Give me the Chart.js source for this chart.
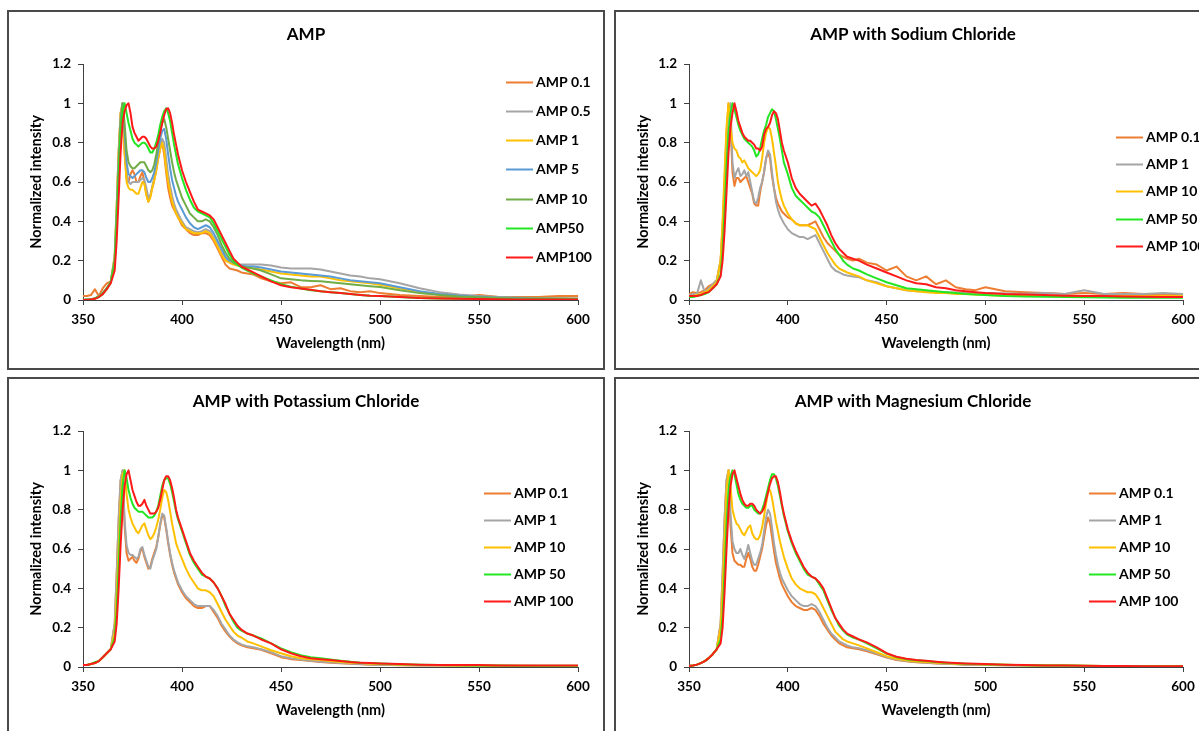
<!DOCTYPE html>
<html><head><meta charset="utf-8">
<script src="https://cdn.jsdelivr.net/npm/chart.js@4/dist/chart.umd.min.js"></script>
<style>
html,body{margin:0;padding:0;background:#fff;width:1199px;height:731px;overflow:hidden;}
.panel{position:absolute;border:2px solid #4a4a4a;box-sizing:border-box;width:598px;height:360px;background:#fff}
.panel canvas{position:absolute;left:0;top:0}
</style></head><body>
<div class="panel" style="left:7px;top:10px"><canvas id="c1" width="594" height="356"></canvas></div>
<div class="panel" style="left:614px;top:10px"><canvas id="c2" width="594" height="356"></canvas></div>
<div class="panel" style="left:7px;top:377px"><canvas id="c3" width="594" height="356"></canvas></div>
<div class="panel" style="left:614px;top:377px"><canvas id="c4" width="594" height="356"></canvas></div>
<script>
// ---------- data ----------
const WL = [350,352,354,356,358,360,362,364,
 366,367,368,369,370,371,372,373,374,375,376,377,378,379,380,381,382,383,384,385,386,387,388,389,390,391,392,393,394,395,396,397,398,
 400,402,404,406,408,410,412,414,416,418,420,422,424,426,428,430,
 433,436,
 440,445,450,455,460,465,470,475,480,485,490,495,500,
 510,520,530,540,550,560,570,580,590,600];

const TITLES = ['AMP','AMP with Sodium Chloride','AMP with Potassium Chloride','AMP with Magnesium Chloride'];
const LABELS_P1 = ['AMP 0.1','AMP 0.5','AMP 1','AMP 5','AMP 10','AMP50','AMP100'];
const LABELS_P234 = ['AMP 0.1','AMP 1','AMP 10','AMP 50','AMP 100'];
const X_TICKS = [350,400,450,500,550,600];
const Y_TICKS = [0,0.2,0.4,0.6,0.8,1,1.2];

// Panel 1: AMP
const P1_01 = [0.02,0.02,0.025,0.055,0.02,0.06,0.085,0.095,
 0.22,0.47,0.75,0.95,1.0,0.75,0.62,0.6,0.64,0.66,0.64,0.6,0.6,0.63,0.65,0.6,0.54,0.5,0.53,0.57,0.61,0.66,0.72,0.77,0.8,0.74,0.65,0.57,0.52,0.48,0.46,0.44,0.42,
 0.38,0.36,0.34,0.33,0.33,0.34,0.34,0.33,0.3,0.26,0.22,0.18,0.16,0.155,0.15,0.14,
 0.135,0.13,
 0.11,0.095,0.085,0.09,0.065,0.065,0.075,0.055,0.06,0.045,0.04,0.045,0.035,
 0.025,0.02,0.015,0.015,0.025,0.015,0.015,0.015,0.02,0.02];
const P1_05 = [0,0.002,0.004,0.008,0.018,0.035,0.06,0.09,
 0.22,0.47,0.75,0.95,1.0,0.78,0.65,0.6,0.59,0.6,0.6,0.6,0.6,0.61,0.62,0.61,0.57,0.52,0.53,0.58,0.62,0.67,0.73,0.79,0.82,0.8,0.72,0.64,0.58,0.53,0.49,0.46,0.44,
 0.4,0.37,0.36,0.35,0.345,0.35,0.36,0.35,0.32,0.28,0.24,0.21,0.19,0.185,0.18,0.18,
 0.18,0.18,
 0.18,0.175,0.165,0.16,0.16,0.16,0.155,0.145,0.135,0.125,0.12,0.11,0.105,
 0.085,0.06,0.04,0.028,0.02,0.015,0.012,0.01,0.008,0.007];
const P1_1 = [0,0.002,0.004,0.008,0.018,0.035,0.06,0.09,
 0.22,0.47,0.75,0.95,1.0,0.75,0.6,0.57,0.56,0.56,0.55,0.54,0.54,0.57,0.6,0.59,0.53,0.5,0.52,0.57,0.61,0.66,0.72,0.77,0.8,0.76,0.67,0.6,0.55,0.5,0.47,0.44,0.42,
 0.39,0.36,0.35,0.34,0.34,0.34,0.35,0.34,0.31,0.27,0.23,0.2,0.19,0.18,0.175,0.17,
 0.165,0.16,
 0.155,0.145,0.135,0.13,0.125,0.12,0.12,0.11,0.1,0.095,0.09,0.085,0.078,
 0.06,0.04,0.028,0.02,0.015,0.012,0.01,0.008,0.007,0.006];
const P1_5 = [0,0.002,0.004,0.008,0.018,0.035,0.06,0.09,
 0.2,0.43,0.7,0.92,1.0,0.85,0.7,0.64,0.63,0.62,0.63,0.64,0.65,0.66,0.66,0.65,0.62,0.6,0.6,0.62,0.65,0.7,0.76,0.82,0.86,0.87,0.82,0.74,0.67,0.61,0.57,0.53,0.5,
 0.46,0.42,0.39,0.37,0.36,0.37,0.38,0.37,0.34,0.3,0.26,0.22,0.2,0.19,0.18,0.175,
 0.17,0.17,
 0.165,0.155,0.145,0.14,0.135,0.13,0.125,0.12,0.11,0.1,0.095,0.09,0.085,
 0.065,0.045,0.03,0.022,0.017,0.013,0.01,0.008,0.007,0.006];
const P1_10 = [0,0.002,0.004,0.008,0.018,0.035,0.06,0.09,
 0.2,0.42,0.68,0.9,1.0,0.9,0.76,0.7,0.68,0.67,0.67,0.68,0.69,0.7,0.7,0.7,0.68,0.66,0.65,0.66,0.69,0.74,0.8,0.86,0.9,0.92,0.88,0.82,0.76,0.7,0.65,0.61,0.58,
 0.52,0.48,0.44,0.42,0.4,0.4,0.41,0.4,0.37,0.33,0.28,0.24,0.21,0.19,0.18,0.17,
 0.165,0.16,
 0.15,0.13,0.11,0.105,0.1,0.097,0.095,0.09,0.085,0.08,0.075,0.07,0.066,
 0.05,0.035,0.025,0.018,0.014,0.01,0.008,0.007,0.006,0.005];
const P1_50 = [0,0,0.003,0.007,0.015,0.03,0.055,0.09,
 0.18,0.38,0.62,0.85,0.96,1.0,0.95,0.9,0.86,0.82,0.8,0.79,0.78,0.79,0.8,0.8,0.79,0.77,0.75,0.75,0.77,0.8,0.84,0.89,0.93,0.96,0.975,0.95,0.91,0.85,0.79,0.74,0.69,
 0.62,0.56,0.51,0.47,0.45,0.44,0.43,0.42,0.39,0.35,0.31,0.27,0.23,0.2,0.18,0.165,
 0.15,0.135,
 0.12,0.1,0.08,0.068,0.058,0.05,0.045,0.04,0.035,0.03,0.026,0.022,0.02,
 0.015,0.01,0.008,0.006,0.005,0.004,0.003,0.003,0.002,0.002];
const P1_100 = [0,0,0.003,0.006,0.015,0.03,0.055,0.085,
 0.15,0.3,0.52,0.75,0.9,0.96,0.99,1.0,0.95,0.88,0.85,0.83,0.81,0.82,0.83,0.83,0.82,0.8,0.78,0.77,0.77,0.78,0.81,0.85,0.9,0.94,0.97,0.975,0.95,0.9,0.84,0.79,0.74,
 0.66,0.6,0.55,0.5,0.46,0.45,0.44,0.43,0.41,0.37,0.33,0.29,0.25,0.21,0.19,0.17,
 0.155,0.14,
 0.12,0.095,0.075,0.065,0.058,0.052,0.045,0.04,0.035,0.03,0.026,0.022,0.02,
 0.015,0.01,0.008,0.006,0.005,0.004,0.003,0.003,0.002,0.002];

// Panel 2: with sodium chloride
const P2_01 = [0.03,0.04,0.035,0.04,0.05,0.07,0.08,0.1,
 0.2,0.38,0.6,0.85,1.0,0.9,0.65,0.58,0.62,0.62,0.6,0.61,0.62,0.63,0.6,0.57,0.54,0.49,0.48,0.48,0.55,0.6,0.65,0.72,0.75,0.72,0.63,0.57,0.52,0.49,0.47,0.45,0.44,
 0.42,0.41,0.39,0.38,0.38,0.38,0.39,0.4,0.36,0.32,0.29,0.27,0.25,0.23,0.22,0.21,
 0.2,0.21,
 0.19,0.18,0.15,0.17,0.12,0.1,0.12,0.08,0.1,0.065,0.055,0.05,0.065,
 0.045,0.04,0.035,0.03,0.035,0.03,0.035,0.03,0.03,0.03];
const P2_1 = [0.025,0.03,0.03,0.1,0.04,0.06,0.08,0.1,
 0.2,0.35,0.55,0.8,0.95,1.0,0.7,0.62,0.65,0.67,0.63,0.64,0.66,0.63,0.65,0.6,0.55,0.5,0.49,0.52,0.57,0.6,0.65,0.72,0.76,0.74,0.65,0.57,0.5,0.46,0.43,0.41,0.39,
 0.36,0.34,0.33,0.32,0.32,0.31,0.32,0.33,0.29,0.25,0.21,0.17,0.15,0.14,0.13,0.125,
 0.12,0.115,
 0.1,0.09,0.07,0.06,0.05,0.045,0.045,0.04,0.04,0.038,0.035,0.035,0.035,
 0.033,0.032,0.035,0.03,0.05,0.03,0.03,0.03,0.035,0.03];
const P2_10 = [0.02,0.02,0.025,0.03,0.04,0.05,0.07,0.09,
 0.2,0.4,0.65,0.88,1.0,0.88,0.8,0.77,0.76,0.73,0.72,0.7,0.71,0.69,0.67,0.66,0.65,0.64,0.63,0.64,0.66,0.72,0.8,0.85,0.88,0.87,0.82,0.75,0.68,0.6,0.55,0.51,0.48,
 0.44,0.41,0.39,0.38,0.38,0.38,0.37,0.36,0.32,0.28,0.24,0.21,0.18,0.16,0.15,0.14,
 0.13,0.12,
 0.1,0.085,0.07,0.06,0.05,0.045,0.04,0.035,0.035,0.03,0.03,0.028,0.025,
 0.022,0.02,0.02,0.02,0.02,0.02,0.02,0.02,0.02,0.02];
const P2_50 = [0.015,0.015,0.02,0.025,0.03,0.04,0.06,0.08,
 0.13,0.25,0.45,0.68,0.85,0.95,1.0,0.97,0.93,0.89,0.86,0.84,0.82,0.81,0.8,0.79,0.78,0.76,0.73,0.74,0.77,0.82,0.86,0.89,0.93,0.95,0.97,0.96,0.92,0.87,0.82,0.76,0.7,
 0.64,0.57,0.53,0.51,0.49,0.47,0.45,0.44,0.42,0.38,0.34,0.3,0.26,0.23,0.2,0.18,
 0.16,0.15,
 0.13,0.11,0.09,0.075,0.06,0.055,0.05,0.045,0.04,0.035,0.03,0.028,0.025,
 0.02,0.018,0.016,0.015,0.014,0.013,0.012,0.012,0.012,0.012];
const P2_100 = [0.02,0.02,0.02,0.025,0.035,0.04,0.06,0.08,
 0.12,0.2,0.35,0.55,0.75,0.88,0.95,1.0,0.96,0.91,0.88,0.85,0.83,0.82,0.81,0.81,0.8,0.79,0.77,0.77,0.76,0.78,0.84,0.87,0.88,0.9,0.94,0.96,0.95,0.92,0.86,0.8,0.76,
 0.7,0.62,0.57,0.54,0.52,0.5,0.48,0.49,0.46,0.42,0.38,0.33,0.29,0.26,0.24,0.22,
 0.21,0.2,
 0.18,0.16,0.14,0.12,0.1,0.085,0.08,0.065,0.06,0.05,0.045,0.04,0.035,
 0.03,0.028,0.025,0.022,0.02,0.02,0.018,0.016,0.015,0.015];

// Panel 3: with potassium chloride
const P3_01 = [0.01,0.01,0.015,0.02,0.03,0.05,0.07,0.09,
 0.22,0.47,0.75,0.95,1.0,0.72,0.58,0.54,0.55,0.56,0.54,0.53,0.55,0.59,0.6,0.56,0.53,0.5,0.51,0.55,0.58,0.61,0.66,0.72,0.77,0.76,0.7,0.63,0.57,0.52,0.48,0.45,0.42,
 0.38,0.35,0.33,0.31,0.3,0.3,0.31,0.31,0.28,0.25,0.21,0.18,0.155,0.135,0.12,0.11,
 0.1,0.095,
 0.088,0.07,0.05,0.04,0.035,0.03,0.026,0.022,0.019,0.016,0.014,0.012,0.011,
 0.009,0.008,0.007,0.006,0.006,0.005,0.005,0.005,0.005,0.005];
const P3_1 = [0.01,0.01,0.015,0.02,0.03,0.05,0.07,0.09,
 0.22,0.47,0.75,0.95,1.0,0.75,0.62,0.58,0.57,0.57,0.56,0.55,0.56,0.6,0.61,0.57,0.54,0.51,0.5,0.54,0.57,0.6,0.66,0.73,0.78,0.77,0.71,0.64,0.58,0.53,0.49,0.46,0.43,
 0.39,0.36,0.34,0.32,0.31,0.31,0.31,0.31,0.29,0.26,0.22,0.19,0.16,0.14,0.125,0.115,
 0.105,0.1,
 0.09,0.075,0.055,0.045,0.038,0.032,0.027,0.024,0.02,0.018,0.015,0.013,0.012,
 0.01,0.009,0.008,0.007,0.006,0.006,0.005,0.005,0.005,0.005];
const P3_10 = [0.01,0.01,0.015,0.02,0.03,0.05,0.07,0.09,
 0.18,0.36,0.6,0.85,0.98,1.0,0.88,0.8,0.76,0.73,0.71,0.69,0.68,0.7,0.72,0.73,0.7,0.67,0.65,0.66,0.68,0.71,0.75,0.8,0.86,0.9,0.89,0.85,0.79,0.73,0.68,0.63,0.6,
 0.55,0.5,0.46,0.43,0.4,0.39,0.39,0.38,0.36,0.32,0.28,0.24,0.21,0.18,0.16,0.15,
 0.13,0.12,
 0.105,0.085,0.07,0.055,0.045,0.04,0.035,0.03,0.025,0.022,0.02,0.017,0.015,
 0.012,0.01,0.009,0.008,0.007,0.006,0.006,0.005,0.005,0.005];
const P3_50 = [0.01,0.01,0.015,0.025,0.03,0.05,0.07,0.09,
 0.15,0.28,0.5,0.75,0.92,1.0,0.96,0.9,0.86,0.83,0.81,0.8,0.79,0.79,0.79,0.78,0.77,0.76,0.76,0.76,0.77,0.79,0.82,0.87,0.92,0.95,0.96,0.96,0.93,0.89,0.84,0.79,0.75,
 0.69,0.63,0.57,0.53,0.5,0.47,0.46,0.45,0.43,0.4,0.36,0.31,0.27,0.23,0.2,0.185,
 0.17,0.16,
 0.145,0.12,0.095,0.075,0.06,0.05,0.045,0.038,0.032,0.027,0.022,0.02,0.018,
 0.014,0.012,0.01,0.009,0.008,0.007,0.006,0.006,0.006,0.006];
const P3_100 = [0.01,0.01,0.015,0.02,0.03,0.05,0.07,0.09,
 0.13,0.22,0.4,0.62,0.8,0.92,0.98,1.0,0.95,0.9,0.87,0.84,0.82,0.82,0.83,0.85,0.82,0.8,0.78,0.78,0.78,0.79,0.81,0.85,0.9,0.95,0.97,0.97,0.95,0.91,0.86,0.8,0.76,
 0.7,0.64,0.58,0.54,0.51,0.48,0.46,0.45,0.43,0.4,0.36,0.32,0.27,0.24,0.21,0.19,
 0.17,0.16,
 0.14,0.12,0.09,0.07,0.055,0.045,0.04,0.035,0.03,0.025,0.022,0.02,0.018,
 0.015,0.012,0.01,0.01,0.01,0.008,0.008,0.007,0.007,0.007];

// Panel 4: with magnesium chloride
const P4_01 = [0.005,0.008,0.012,0.02,0.03,0.045,0.065,0.09,
 0.22,0.47,0.75,0.95,1.0,0.72,0.58,0.54,0.53,0.52,0.52,0.51,0.51,0.55,0.58,0.55,0.51,0.49,0.49,0.52,0.56,0.6,0.66,0.72,0.76,0.73,0.66,0.59,0.53,0.49,0.45,0.42,0.4,
 0.36,0.33,0.31,0.3,0.29,0.29,0.3,0.29,0.26,0.22,0.19,0.16,0.14,0.12,0.11,0.1,
 0.095,0.09,
 0.08,0.064,0.048,0.036,0.029,0.024,0.021,0.018,0.016,0.014,0.012,0.011,0.01,
 0.009,0.008,0.007,0.006,0.005,0.005,0.004,0.004,0.004,0.004];
const P4_1 = [0.005,0.008,0.012,0.02,0.03,0.045,0.065,0.09,
 0.22,0.47,0.75,0.95,1.0,0.78,0.64,0.6,0.58,0.58,0.6,0.57,0.55,0.58,0.62,0.58,0.54,0.52,0.52,0.55,0.58,0.62,0.69,0.76,0.8,0.78,0.71,0.63,0.57,0.52,0.48,0.45,0.43,
 0.39,0.36,0.34,0.32,0.31,0.31,0.32,0.31,0.28,0.24,0.2,0.17,0.15,0.13,0.12,0.11,
 0.1,0.095,
 0.085,0.068,0.05,0.038,0.03,0.025,0.022,0.019,0.017,0.015,0.013,0.012,0.011,
 0.009,0.008,0.007,0.006,0.005,0.005,0.004,0.004,0.004,0.004];
const P4_10 = [0.005,0.008,0.012,0.02,0.03,0.045,0.065,0.09,
 0.2,0.4,0.66,0.9,1.0,0.92,0.8,0.76,0.73,0.72,0.7,0.68,0.67,0.69,0.71,0.72,0.68,0.66,0.65,0.65,0.67,0.71,0.77,0.83,0.89,0.9,0.86,0.8,0.74,0.69,0.64,0.6,0.56,
 0.5,0.45,0.42,0.4,0.39,0.38,0.38,0.37,0.34,0.3,0.26,0.22,0.18,0.16,0.14,0.13,
 0.12,0.11,
 0.095,0.075,0.055,0.042,0.034,0.028,0.025,0.022,0.019,0.017,0.015,0.014,0.013,
 0.011,0.009,0.008,0.007,0.006,0.005,0.005,0.005,0.005,0.005];
const P4_50 = [0.005,0.008,0.012,0.02,0.03,0.045,0.065,0.09,
 0.14,0.26,0.48,0.72,0.9,0.97,1.0,0.98,0.93,0.88,0.85,0.83,0.82,0.81,0.81,0.82,0.82,0.8,0.79,0.78,0.78,0.8,0.83,0.87,0.91,0.95,0.98,0.98,0.96,0.92,0.87,0.82,0.77,
 0.69,0.63,0.58,0.54,0.5,0.47,0.46,0.45,0.42,0.39,0.34,0.29,0.25,0.21,0.185,0.165,
 0.15,0.14,
 0.12,0.095,0.068,0.05,0.04,0.034,0.03,0.026,0.022,0.019,0.017,0.015,0.014,
 0.011,0.009,0.008,0.007,0.006,0.005,0.005,0.004,0.004,0.004];
const P4_100 = [0.005,0.008,0.012,0.02,0.03,0.045,0.065,0.09,
 0.12,0.2,0.38,0.6,0.8,0.92,0.98,1.0,0.96,0.92,0.88,0.85,0.83,0.82,0.82,0.83,0.83,0.82,0.8,0.79,0.78,0.79,0.81,0.85,0.89,0.93,0.96,0.97,0.97,0.94,0.89,0.83,0.78,
 0.7,0.64,0.59,0.55,0.51,0.48,0.46,0.45,0.43,0.4,0.35,0.3,0.25,0.22,0.19,0.17,
 0.155,0.14,
 0.125,0.1,0.07,0.052,0.042,0.036,0.032,0.027,0.023,0.02,0.018,0.016,0.015,
 0.012,0.01,0.008,0.007,0.006,0.005,0.005,0.004,0.004,0.004];

const COLORS_P1 = ['#ED7D31','#A5A5A5','#FFC000','#5B9BD5','#70AD47','#22E622','#FF1A1A'];
const COLORS_P234 = ['#ED7D31','#A5A5A5','#FFC000','#22E622','#FF1A1A'];

// ---------- drawing ----------
const FONT = "Lato, 'Open Sans', 'DejaVu Sans', sans-serif";
Chart.defaults.font.family = FONT;
Chart.defaults.color = '#000';

const overlayLegend = {
  id: 'overlayLegend',
  afterDraw(chart, args, o) {
    const ctx = chart.ctx;
    ctx.save();
    ctx.font = 'bold 14px ' + FONT;
    ctx.textBaseline = 'middle';
    ctx.textAlign = 'left';
    chart.data.datasets.forEach((ds, i) => {
      const y = Math.round(o.y + i * o.gap) + 0.5;
      ctx.strokeStyle = ds.borderColor;
      ctx.lineWidth = 2;
      ctx.beginPath(); ctx.moveTo(o.x, y); ctx.lineTo(o.x + 27, y); ctx.stroke();
      ctx.fillStyle = '#000';
      ctx.fillText(ds.label, o.x + 30, y);
    });
    ctx.restore();
  }
};

function makeChart(id, title, labels, series, colors, yW, rightPad, leg) {
  const n = series.length;
  const datasets = series.map((s, i) => ({
    label: labels[i],
    data: s.map((v, k) => ({x: WL[k], y: v})),
    borderColor: colors[i],
    backgroundColor: colors[i],
    borderWidth: 2,
    borderJoinStyle: 'round',
    borderCapStyle: 'round',
    pointRadius: 0,
    tension: 0,
    fill: false,
    order: n - 1 - i
  }));
  const axisColor = '#404040';
  return new Chart(document.getElementById(id), {
    type: 'line',
    data: { datasets },
    plugins: [overlayLegend],
    options: {
      responsive: false,
      animation: false,
      devicePixelRatio: 1,
      layout: { padding: 0 },
      plugins: {
        legend: { display: false },
        tooltip: { enabled: false },
        title: { display: true, text: title, color: '#000',
          font: { size: 17, weight: 'bold' }, padding: { top: 12, bottom: 19.6 } },
        overlayLegend: leg
      },
      scales: {
        x: {
          type: 'linear', min: 350, max: 600,
          afterBuildTicks: s => { s.ticks = X_TICKS.map(v => ({value: v})); },
          afterFit: s => { s.height = 68; },
          grid: { drawOnChartArea: false, drawTicks: true, tickLength: 5, color: axisColor },
          border: { display: true, color: axisColor, width: 1 },
          ticks: { color: '#000', font: { size: 13.5, weight: 'bold' }, padding: 7, maxRotation: 0 },
          title: { display: true, text: 'Wavelength (nm)', color: '#000',
            font: { size: 14.5, weight: 'bold' }, padding: { top: 0, bottom: 16 } }
        },
        y: {
          min: 0, max: 1.2,
          afterBuildTicks: s => { s.ticks = Y_TICKS.map(v => ({value: v})); },
          afterFit: s => { s.width = yW; },
          grid: { drawOnChartArea: false, drawTicks: true, tickLength: 5, color: axisColor },
          border: { display: true, color: axisColor, width: 1 },
          ticks: { color: '#000', font: { size: 13.5, weight: 'bold' }, padding: 7,
            callback: v => String(Math.round(v * 10) / 10) },
          title: { display: true, text: 'Normalized intensity', color: '#000',
            font: { size: 14.5, weight: 'bold' }, padding: { top: 18.5, bottom: 0 } }
        },
        // empty spacer on the right so the title stays centred on the whole panel
        spacer: {
          position: 'right', min: 0, max: 1,
          afterFit: s => { s.width = rightPad; },
          grid: { display: false, drawTicks: false },
          border: { display: false },
          ticks: { display: false },
          title: { display: false }
        }
      }
    }
  });
}

makeChart('c1', TITLES[0], LABELS_P1, [P1_01, P1_05, P1_1, P1_5, P1_10, P1_50, P1_100], COLORS_P1, 74, 25,
  { x: 497, y: 69.7, gap: 29.2 });
makeChart('c2', TITLES[1], LABELS_P234, [P2_01, P2_1, P2_10, P2_50, P2_100], COLORS_P234, 73, 27,
  { x: 500, y: 124.7, gap: 27.3 });
makeChart('c3', TITLES[2], LABELS_P234, [P3_01, P3_1, P3_10, P3_50, P3_100], COLORS_P234, 74, 25,
  { x: 475, y: 114, gap: 26.9 });
makeChart('c4', TITLES[3], LABELS_P234, [P4_01, P4_1, P4_10, P4_50, P4_100], COLORS_P234, 73, 27,
  { x: 473, y: 114, gap: 26.9 });
</script>
</body></html>
